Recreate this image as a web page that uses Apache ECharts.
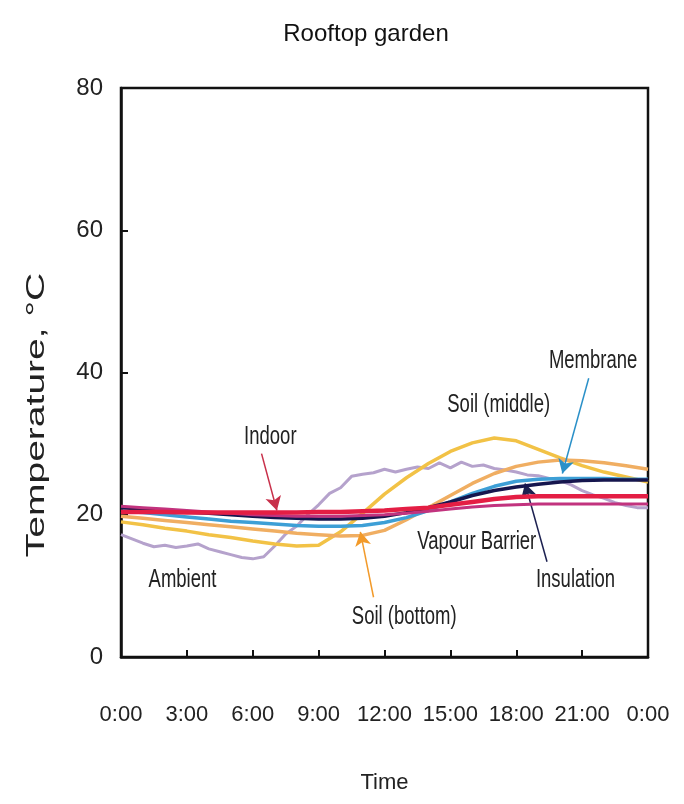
<!DOCTYPE html>
<html>
<head>
<meta charset="utf-8">
<script src="https://cdn.jsdelivr.net/npm/echarts@6/dist/echarts.min.js"></script>
<style>html,body{margin:0;padding:0;background:#fff;}#chart{width:684px;height:804px;}</style>
</head>
<body>
<div id="chart"></div>
<script>
// ---- data ----
const hours = [0,1,2,3,4,5,6,7,8,9,10,11,12,13,14,15,16,17,18,19,20,21,22,23,24];
const halfHours = [0,0.5,1,1.5,2,2.5,3,3.5,4,4.5,5,5.5,6,6.5,7,7.5,8,8.5,9,9.5,10,10.5,11,11.5,12,12.5,13,13.5,14,14.5,15,15.5,16,16.5,17,17.5,18,18.5,19,19.5,20,20.5,21,21.5,22,22.5,23,23.5,24];
const ambient = [17.2,16.6,16.0,15.5,15.7,15.4,15.6,15.9,15.2,14.8,14.4,14.0,13.8,14.1,15.6,17.3,18.4,20.0,21.4,23.0,23.8,25.4,25.7,25.9,26.4,26.0,26.4,26.7,26.5,27.3,26.6,27.4,26.8,27.0,26.5,26.3,26.0,25.6,25.5,25.1,24.8,24.2,23.4,22.8,22.3,21.7,21.3,21.0,21.0];
const soilMiddle = [19.0,18.6,18.1,17.7,17.2,16.8,16.3,15.9,15.6,15.7,17.6,20.2,22.9,25.2,27.2,28.9,30.1,30.8,30.4,29.2,28.0,26.9,26.0,25.3,24.6];
const soilBottom = [19.8,19.5,19.2,18.9,18.6,18.3,18.0,17.7,17.4,17.2,17.0,17.1,17.8,19.3,21.0,22.7,24.4,25.8,26.8,27.4,27.7,27.6,27.3,26.9,26.4];
const membrane = [20.5,20.3,20.0,19.7,19.4,19.1,18.9,18.7,18.5,18.4,18.4,18.5,18.9,19.6,20.6,21.8,23.0,24.0,24.7,25.0,25.1,25.1,25.1,25.0,25.0];
const insulation = [21.0,20.8,20.6,20.4,20.2,20.0,19.8,19.6,19.5,19.4,19.4,19.5,19.8,20.3,21.0,21.8,22.7,23.4,23.9,24.3,24.6,24.8,24.9,24.9,24.9];
const vapourBarrier = [21.2,21.0,20.8,20.6,20.4,20.2,20.0,19.9,19.8,19.8,19.8,19.9,20.0,20.2,20.5,20.8,21.1,21.3,21.4,21.5,21.5,21.5,21.5,21.5,21.5];
const indoor = [20.4,20.4,20.4,20.3,20.3,20.3,20.3,20.3,20.3,20.4,20.4,20.5,20.6,20.8,21.0,21.4,21.8,22.2,22.5,22.6,22.6,22.6,22.6,22.6,22.6];
const xTicks = ['0:00','3:00','6:00','9:00','12:00','15:00','18:00','21:00','0:00'];

// annotation texts (data coords) and arrows
const notes = [
  {text:'Indoor', at:[6.8,30.9]},
  {text:'Ambient', at:[2.8,10.8]},
  {text:'Soil (bottom)', at:[12.9,5.6]},
  {text:'Vapour Barrier', at:[16.2,16.2]},
  {text:'Insulation', at:[20.7,10.8]},
  {text:'Soil (middle)', at:[17.2,35.4]},
  {text:'Membrane', at:[21.5,41.6]}
];
const arrows = [
  {from:[6.4,28.6], to:[7.1,20.6], color:'#c8304a'},
  {from:[11.5,8.4], to:[10.9,17.6], color:'#f29a2a'},
  {from:[19.4,13.4], to:[18.4,24.4], color:'#1c2050'},
  {from:[21.3,39.2], to:[20.1,25.8], color:'#2a90c8'}
];

const FONT = '"Liberation Sans",Arial,sans-serif';
const pair = (xs, ys) => xs.map((x,i)=>[x, ys[i]]);

const chart = echarts.init(document.getElementById('chart'), null, {renderer:'canvas'});
const mkLine = (name, xs, ys, color, width, z) => ({
  name, type:'line', data: pair(xs, ys), showSymbol:false, symbol:'none',
  lineStyle:{color, width}, itemStyle:{color}, z: z||2, animation:false
});

const series = [
  mkLine('Ambient', halfHours, ambient, '#b5a2cc', 3, 2),
  mkLine('Soil (middle)', hours, soilMiddle, '#f2c246', 3.5, 3),
  mkLine('Soil (bottom)', hours, soilBottom, '#f0ae62', 3.5, 3),
  mkLine('Membrane', hours, membrane, '#3d9fd6', 3.5, 4),
  mkLine('Insulation', hours, insulation, '#16164e', 3.5, 5),
  mkLine('Vapour Barrier', hours, vapourBarrier, '#c2337e', 3, 5),
  mkLine('Indoor', hours, indoor, '#e41e44', 4.5, 6)
];
series[0].markLine = {
  silent:true, animation:false, symbol:['none','arrow'], symbolSize:[12,14],
  label:{show:false},
  data: arrows.map(a => [
    {coord:a.from, lineStyle:{color:a.color, width:1.5, type:'solid'}, itemStyle:{color:a.color}},
    {coord:a.to}
  ])
};

chart.setOption({
  animation:false,
  backgroundColor:'#fff',
  title:{text:'Rooftop garden', left:361, top:17, textAlign:'center',
    textStyle:{fontFamily:FONT, fontSize:24, fontWeight:'normal', color:'#111'}},
  grid:{left:121, right:36, top:88, bottom:147, show:true, borderColor:'#111', borderWidth:2.5, backgroundColor:'transparent'},
  xAxis:{type:'value', min:0, max:24, interval:3,
    name:'Time', nameLocation:'middle', nameGap:115,
    nameTextStyle:{fontFamily:FONT, fontSize:22, color:'#222'},
    axisLine:{lineStyle:{color:'#111', width:2.5}},
    axisTick:{inside:true, length:7, lineStyle:{color:'#111', width:2}},
    splitLine:{show:false},
    axisLabel:{margin:47, fontFamily:FONT, fontSize:22, color:'#222',
      formatter:(v)=> xTicks[Math.round(v/3)]}
  },
  yAxis:{type:'value', min:0, max:80, interval:20,
    axisLine:{show:true, lineStyle:{color:'#111', width:2.5}},
    axisTick:{show:true, inside:true, length:7, lineStyle:{color:'#111', width:2}},
    splitLine:{show:false},
    axisLabel:{margin:18, fontFamily:FONT, fontSize:24, color:'#222'}
  },
  series
});

// annotation labels & y-axis title
const g = notes.map(n => {
  const p = chart.convertToPixel({gridIndex:0}, n.at);
  return {type:'text', x:p[0], y:p[1], scaleY:1.4, silent:true, z:10,
    style:{text:n.text, fill:'#222', font:'18.5px '+FONT, align:'center', verticalAlign:'middle'}};
});
g.push({type:'text', x:37, y:415, rotation:Math.PI/2, scaleX:1.5, silent:true,
  style:{text:'Temperature, °C', fill:'#222', font:'26px '+FONT, align:'center', verticalAlign:'middle'}});
chart.setOption({graphic:g});
</script>
</body>
</html>
